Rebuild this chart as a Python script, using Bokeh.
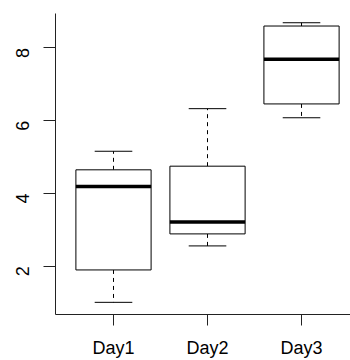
import math
from bokeh.plotting import figure
from bokeh.models import Range1d, FixedTicker, ColumnDataSource
from bokeh.embed import file_html
from bokeh.resources import INLINE

categories = ["Day1", "Day2", "Day3"]
lower = [1.01, 2.56, 6.08]
q1 = [1.90, 2.89, 6.46]
median = [4.19, 3.22, 7.69]
q3 = [4.65, 4.75, 8.60]
upper = [5.16, 6.33, 8.69]
y_ticks = [2, 4, 6, 8]

pos = [i + 1 for i in range(len(categories))]
box_half = 0.4
cap_half = 0.2

src = ColumnDataSource(dict(
    x=pos,
    left=[x - box_half for x in pos],
    right=[x + box_half for x in pos],
    cl=[x - cap_half for x in pos],
    cr=[x + cap_half for x in pos],
    lower=lower, q1=q1, median=median, q3=q3, upper=upper,
))

p = figure(width=350, height=360, output_backend="svg", toolbar_location=None,
           x_range=Range1d(0.383, 3.521), y_range=Range1d(0.676, 8.944),
           min_border_left=55, min_border_right=0, min_border_top=13, min_border_bottom=43)
p.outline_line_color = None
p.xgrid.visible = False
p.ygrid.visible = False
p.background_fill_color = "white"
p.border_fill_color = "white"

# whiskers
p.segment(x0="x", y0="q3", x1="x", y1="upper", source=src, line_color="black",
          line_width=1, line_dash="4 4")
p.segment(x0="x", y0="q1", x1="x", y1="lower", source=src, line_color="black",
          line_width=1, line_dash="4 4")
# caps
p.segment(x0="cl", y0="upper", x1="cr", y1="upper", source=src, line_color="black", line_width=1)
p.segment(x0="cl", y0="lower", x1="cr", y1="lower", source=src, line_color="black", line_width=1)
# boxes
p.quad(left="left", right="right", bottom="q1", top="q3", source=src,
       fill_color="white", line_color="black", line_width=1)
# medians
p.segment(x0="left", y0="median", x1="right", y1="median", source=src,
          line_color="black", line_width=3.5, line_cap="butt")

for ax in (p.xaxis[0], p.yaxis[0]):
    ax.axis_line_color = "#222222"
    ax.axis_line_width = 1
    ax.major_tick_line_color = "#222222"
    ax.major_tick_in = 0
    ax.major_tick_out = 12
    ax.minor_tick_line_color = None
    ax.major_label_text_font = "Liberation Sans"
    ax.major_label_text_font_size = "18px"
    ax.major_label_text_color = "black"

p.xaxis.ticker = FixedTicker(ticks=pos)
p.xaxis.major_label_overrides = {x: c for x, c in zip(pos, categories)}
p.xaxis.major_label_standoff = 12
p.xaxis.major_tick_out = 11

p.yaxis.ticker = FixedTicker(ticks=y_ticks)
p.yaxis.major_label_orientation = math.pi / 2
p.yaxis.major_label_standoff = 21

open("out.html", "w").write(file_html(p, INLINE))
